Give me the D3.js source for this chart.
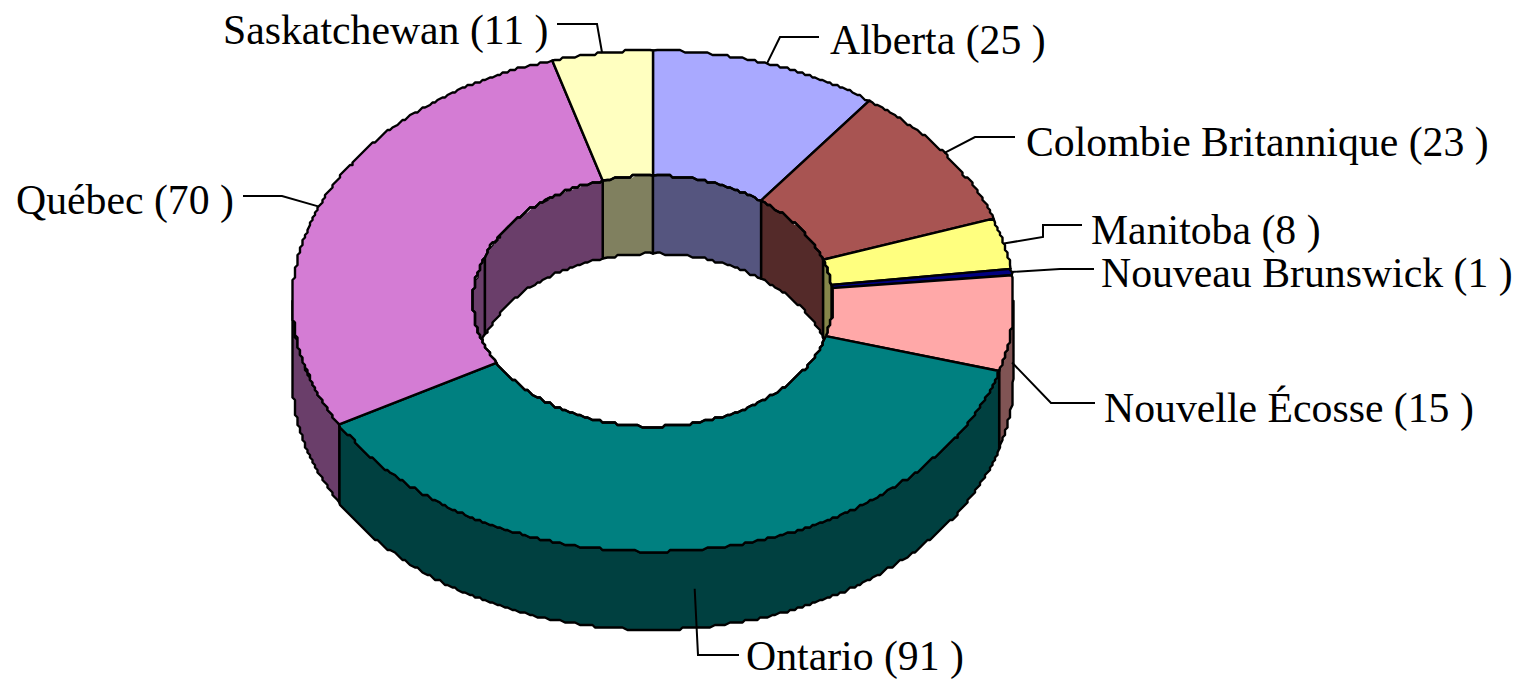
<!DOCTYPE html>
<html>
<head>
<meta charset="utf-8">
<title>Provinces</title>
<script src="https://cdnjs.cloudflare.com/ajax/libs/d3/7.8.5/d3.min.js"></script>
<style>
    html, body { margin: 0; padding: 0; background: #fff; }
    svg { display: block; }
    text { font-family: "Liberation Serif", serif; font-size: 41.75px; fill: #000; }
</style>
</head>
<body>
<svg class="donut" width="1520" height="679"></svg>
<script>
const provinces = ["Alberta", "Colombie Britannique", "Manitoba", "Nouveau Brunswick",
    "Nouvelle Écosse", "Ontario", "Québec", "Saskatchewan"];
const counts = [25, 23, 8, 1, 15, 91, 70, 11];
const sliceColors = ["#a9a9ff", "#a85452", "#ffff7f", "#000080", "#ffa8a8", "#008080", "#d47cd4", "#ffffc0"];
const wallColors = ["#55557f", "#542a29", "#86864a", "#000040", "#805454", "#004040", "#6a3e6a", "#80805f"];

// label anchor (text start, baseline) and the elbow the leader goes through
const labelSpots = [
    { x: 830, y: 54, elbow: [[780, 37], [819, 37]] },
    { x: 1026, y: 156, elbow: [[975, 137], [1015, 137]] },
    { x: 1091, y: 244, elbow: [[1043, 237], [1043, 225], [1082, 225]] },
    { x: 1101, y: 287, elbow: [[1060, 269], [1094, 269]] },
    { x: 1104, y: 422, elbow: [[1051, 403], [1095, 403]] },
    { x: 746, y: 670, elbow: [[698, 655], [739, 655]] },
    { x: 16, y: 214, elbow: [[282, 196], [243, 196]] },
    { x: 223, y: 44, elbow: [[597, 24], [557, 24]] }
];

const cx = 653, cy = 301;
const outerX = 360.5, outerY = 250.5;
const innerX = 180, innerY = 125.5;
const depth = 78;
const TAU = Math.PI * 2;
const deg = (d) => d * Math.PI / 180;

// inner wall is only seen between these angles, and Quebec's has a seam at wallSeam
const innerLeft = deg(252), innerRight = deg(106), wallSeam = deg(291);

const svg = d3.select("svg.donut");

const slices = d3.pie().sort(null).value((d) => d)(counts);

// the reference edges are stair stepped, so intermediate points snap to a grid
const snap = (v) => Math.round(v / 2.5) * 2.5;

function ellipsePoint(a, rx, ry, dy) {
    return [cx + rx * Math.sin(a), cy + dy - ry * Math.cos(a)];
}

function arcPoints(a, b, rx, ry, dy) {
    let steps = Math.max(1, Math.ceil(Math.abs(b - a) * rx / 4));
    let pts = [];
    for (let i = 0; i <= steps; i++) {
        let p = ellipsePoint(a + (b - a) * i / steps, rx, ry, dy);
        pts.push(i === 0 || i === steps ? p : [snap(p[0]), snap(p[1])]);
    }
    return pts;
}

const closed = (pts) => d3.line()(pts) + "Z";

function wall(a, b, rx, ry) {
    return closed(arcPoints(a, b, rx, ry, 0).concat(arcPoints(b, a, rx, ry, depth)));
}

function drawShape(parent, d, fill, width) {
    return parent.append("path")
        .attr("d", d)
        .attr("fill", fill)
        .attr("stroke", "#000")
        .attr("stroke-width", width)
        .attr("stroke-linejoin", "round");
}

// outer side, only the front half of the ring
let outerWalls = svg.append("g").attr("class", "outerWalls");
slices.forEach((s, i) => {
    let a = Math.max(s.startAngle, Math.PI / 2);
    let b = Math.min(s.endAngle, Math.PI * 1.5);
    if (a < b) {
        drawShape(outerWalls, wall(a, b, outerX, outerY), wallColors[i], 2.4);
    }
});

// top of the ring
let topFaces = svg.append("g").attr("class", "topFaces");
slices.forEach((s, i) => {
    let pts = arcPoints(s.startAngle, s.endAngle, outerX, outerY, 0)
        .concat(arcPoints(s.endAngle, s.startAngle, innerX, innerY, 0));
    drawShape(topFaces, closed(pts), sliceColors[i], 2.4);
});

// inner side, seen through the hole
svg.append("clipPath").attr("id", "holeClip")
    .append("path")
    .attr("d", closed(arcPoints(0, TAU, innerX, innerY, 0)));

let innerWalls = svg.append("g").attr("class", "innerWalls").attr("clip-path", "url(#holeClip)");
d3.range(slices.length - 1, -1, -1).forEach((i) => {
    let s = slices[i];
    if (s.startAngle < innerRight) {
        drawShape(innerWalls, wall(s.startAngle, Math.min(s.endAngle, innerRight), innerX, innerY), wallColors[i], 2.4);
    }
    if (s.endAngle > innerLeft) {
        let a = Math.max(s.startAngle, innerLeft);
        if (a < wallSeam && s.endAngle > wallSeam) {
            drawShape(innerWalls, wall(a, wallSeam, innerX, innerY), wallColors[i], 2.4);
            a = wallSeam;
        }
        drawShape(innerWalls, wall(a, s.endAngle, innerX, innerY), wallColors[i], 2.4);
    }
});

// hole outline on top of the walls
slices.forEach((s) => {
    svg.append("path")
        .attr("d", d3.line()(arcPoints(s.startAngle, s.endAngle, innerX, innerY, 0)))
        .attr("fill", "none")
        .attr("stroke", "#000")
        .attr("stroke-width", 2.4);
});

// leaders start from the middle of each slice, halfway down the wall if it is in front
let labels = svg.append("g").attr("class", "labels");
slices.forEach((s, i) => {
    let mid = (s.startAngle + s.endAngle) / 2;
    let front = mid > Math.PI / 2 && mid < Math.PI * 1.5;
    let start = ellipsePoint(mid, outerX, outerY, front ? depth / 2 : 0);

    labels.append("path")
        .attr("d", d3.line()([start].concat(labelSpots[i].elbow)))
        .attr("fill", "none")
        .attr("stroke", "#000")
        .attr("stroke-width", 2);

    labels.append("text")
        .attr("x", labelSpots[i].x)
        .attr("y", labelSpots[i].y)
        .text(provinces[i] + " (" + counts[i] + " )");
});
</script>
</body>
</html>
